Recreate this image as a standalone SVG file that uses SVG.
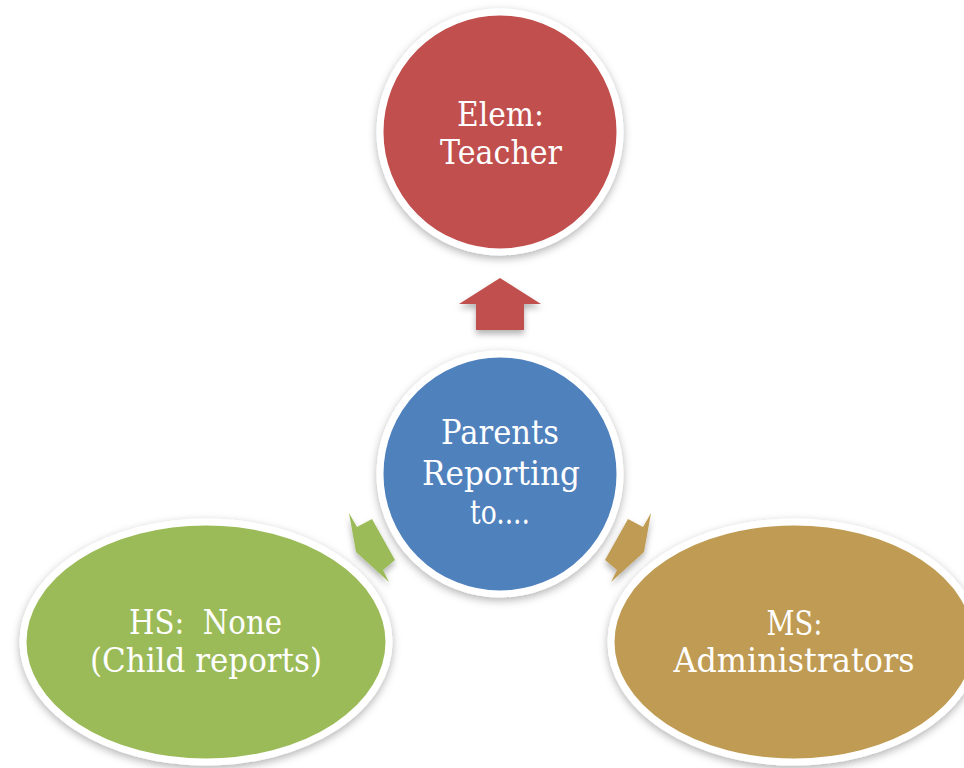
<svg xmlns="http://www.w3.org/2000/svg" width="964" height="768" viewBox="0 0 964 768">
<defs>
<filter id="sh" x="-20%" y="-20%" width="140%" height="150%">
<feDropShadow dx="0" dy="3" stdDeviation="4" flood-color="#000" flood-opacity="0.3"/>
</filter>
<filter id="ash" x="-30%" y="-30%" width="160%" height="170%">
<feDropShadow dx="0" dy="4" stdDeviation="3" flood-color="#000" flood-opacity="0.3"/>
</filter>
</defs>
<style>
.node{stroke:#fff;stroke-width:7;filter:url(#sh)}
.lbl{font-family:"DejaVu Serif","Liberation Serif",serif;font-size:33px;fill:#fff;text-anchor:middle;white-space:pre}
.arr{filter:url(#ash)}
</style>
<rect width="964" height="768" fill="#fff"/>
<g id="connectors">
<polygon class="arr" fill="#C0504D" points="500,278 541,304 524,304 524,330 476,330 476,304 459,304"/>
<polygon class="arr" fill="#9BBB59" points="349,513 357,527 372,519 395,560 383,570 389,582 356,552"/>
<polygon class="arr" fill="#BF9B53" points="651,513 643,527 628,519 605,560 617,570 611,582 644,552"/>
</g>
<g id="node-elem">
<circle class="node" cx="500" cy="132" r="120" fill="#C0504D"/>
<text class="lbl" x="500.5" y="126" textLength="87" lengthAdjust="spacingAndGlyphs">Elem:</text>
<text class="lbl" x="501" y="164" textLength="122" lengthAdjust="spacingAndGlyphs">Teacher</text>
</g>
<g id="node-hs">
<ellipse class="node" cx="206" cy="642" rx="183" ry="120" fill="#9BBB59"/>
<text class="lbl" x="205.5" y="634" textLength="153" lengthAdjust="spacingAndGlyphs">HS:  None</text>
<text class="lbl" x="206" y="672" textLength="232" lengthAdjust="spacingAndGlyphs">(Child reports)</text>
</g>
<g id="node-ms">
<ellipse class="node" cx="794" cy="642" rx="183" ry="120" fill="#BF9B53"/>
<text class="lbl" x="794.5" y="635" textLength="56" lengthAdjust="spacingAndGlyphs">MS:</text>
<text class="lbl" x="794" y="672" textLength="241" lengthAdjust="spacingAndGlyphs">Administrators</text>
</g>
<g id="node-center">
<circle class="node" cx="500" cy="474" r="120" fill="#4F81BD"/>
<text class="lbl" x="500" y="444" textLength="118" lengthAdjust="spacingAndGlyphs">Parents</text>
<text class="lbl" x="501" y="485" textLength="158" lengthAdjust="spacingAndGlyphs">Reporting</text>
<text class="lbl" x="500" y="524" textLength="60" lengthAdjust="spacingAndGlyphs">to....</text>
</g>
</svg>
